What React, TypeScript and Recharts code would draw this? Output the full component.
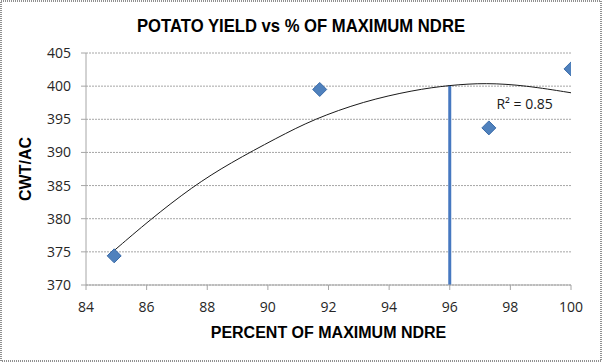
import React from 'react';
import {
  ComposedChart,
  XAxis,
  YAxis,
  CartesianGrid,
  Scatter,
  Line,
  ReferenceLine,
  ReferenceDot,
  Label,
} from 'recharts';

// Observed data points
const ndrePercent = [84.93, 91.71, 97.29, 100];
const yieldCwt = [374.4, 399.5, 393.7, 402.6];

// Trendline
const trendX = [84.93, 86.1, 87.5, 88.75, 90.3, 91.5, 93.15, 94.8, 96.0, 97.2, 98.5, 100];
const trendY = [375.2, 379.8, 384.8, 388.4, 392.2, 395.0, 397.7, 399.4, 400.15, 400.5, 400.1, 399.0];

const xTicks = [84, 86, 88, 90, 92, 94, 96, 98, 100];
const yTicks = [370, 375, 380, 385, 390, 395, 400, 405];

const optimumX = 96;
const optimumY = 400.15;
const baseY = 370;

const r2X = 98.47;
const r2Y = 397.25;
const r2Text = 'R² = 0.85';

const titleText = 'POTATO YIELD vs % OF MAXIMUM NDRE';
const xTitle = 'PERCENT OF MAXIMUM  NDRE';
const yTitle = 'CWT/AC';

const points = ndrePercent.map((x, i) => ({ x, y: yieldCwt[i] }));
const trend = trendX.map((x, i) => ({ x, y: trendY[i] }));

const GRID = '#a6a6a6';
const BLUE = '#4678C0';
const TICK_FONT = { fontFamily: 'Open Sans, sans-serif', fontSize: 14, fill: '#262626' };

const Diamond = (props: any) => {
  const { cx, cy } = props;
  if (cx == null || cy == null) return null;
  const r = 7;
  return (
    <polygon
      points={`${cx},${cy - r} ${cx + r},${cy} ${cx},${cy + r} ${cx - r},${cy}`}
      fill="#4F81BD"
      stroke="#3A6BA8"
      strokeWidth={1}
    />
  );
};

export default function App() {
  return (
    <div style={{ position: 'absolute', left: 0, top: 0, width: 602, height: 362, background: '#fff' }}>
      <ComposedChart
        width={602}
        height={362}
        margin={{ top: 53, right: 31, bottom: 17, left: 0 }}
      >
        <CartesianGrid vertical={false} stroke={GRID} strokeDasharray="2 1" />
        <XAxis
          type="number"
          dataKey="x"
          domain={[84, 100]}
          ticks={xTicks}
          interval={0}
          height={60}
          tickSize={5}
          tickMargin={12}
          axisLine={{ stroke: GRID }}
          tickLine={{ stroke: GRID }}
          tick={TICK_FONT}
          allowDataOverflow
        >
          <Label
            value={xTitle}
            position="insideBottom"
            offset={7}
            style={{ fontFamily: 'Liberation Sans, Arial, sans-serif', fontSize: 16, fontWeight: 'bold', fill: '#000' }}
          />
        </XAxis>
        <YAxis
          type="number"
          dataKey="y"
          domain={[370, 405]}
          ticks={yTicks}
          interval={0}
          width={86}
          tickSize={5}
          tickMargin={10}
          axisLine={{ stroke: GRID }}
          tickLine={{ stroke: GRID }}
          tick={TICK_FONT}
          allowDataOverflow
        >
          <Label
            value={yTitle}
            angle={-90}
            position="insideLeft"
            offset={25}
            style={{ textAnchor: 'middle', fontFamily: 'Liberation Sans, Arial, sans-serif', fontSize: 16, fontWeight: 'bold', fill: '#000' }}
          />
        </YAxis>
        <ReferenceLine
          segment={[{ x: optimumX, y: baseY }, { x: optimumX, y: optimumY }]}
          stroke={BLUE}
          strokeWidth={3}
          ifOverflow="visible"
        />
        <Line
          data={trend}
          dataKey="y"
          type="basis"
          stroke="#1a1a1a"
          strokeWidth={1}
          dot={false}
          activeDot={false}
          isAnimationActive={false}
        />
        <Scatter data={points} dataKey="y" shape={Diamond} isAnimationActive={false} />
        <ReferenceDot
          x={r2X}
          y={r2Y}
          r={0}
          fill="none"
          stroke="none"
          label={{ value: r2Text, position: 'center', style: { fontFamily: 'Open Sans, sans-serif', fontSize: 14, fill: '#1a1a1a' } }}
        />
      </ComposedChart>
      <svg
        width={602}
        height={362}
        style={{ position: 'absolute', left: 0, top: 0, pointerEvents: 'none' }}
      >
        <text
          x={301}
          y={31.5}
          textAnchor="middle"
          textLength={328}
          lengthAdjust="spacingAndGlyphs"
          style={{ fontFamily: 'Liberation Sans, Arial, sans-serif', fontSize: 19, fontWeight: 'bold', fill: '#000' }}
        >
          {titleText}
        </text>
        <rect x={1} y={1} width={600} height={360} fill="none" stroke="#909090" strokeWidth={2} strokeDasharray="1 1" />
      </svg>
    </div>
  );
}
